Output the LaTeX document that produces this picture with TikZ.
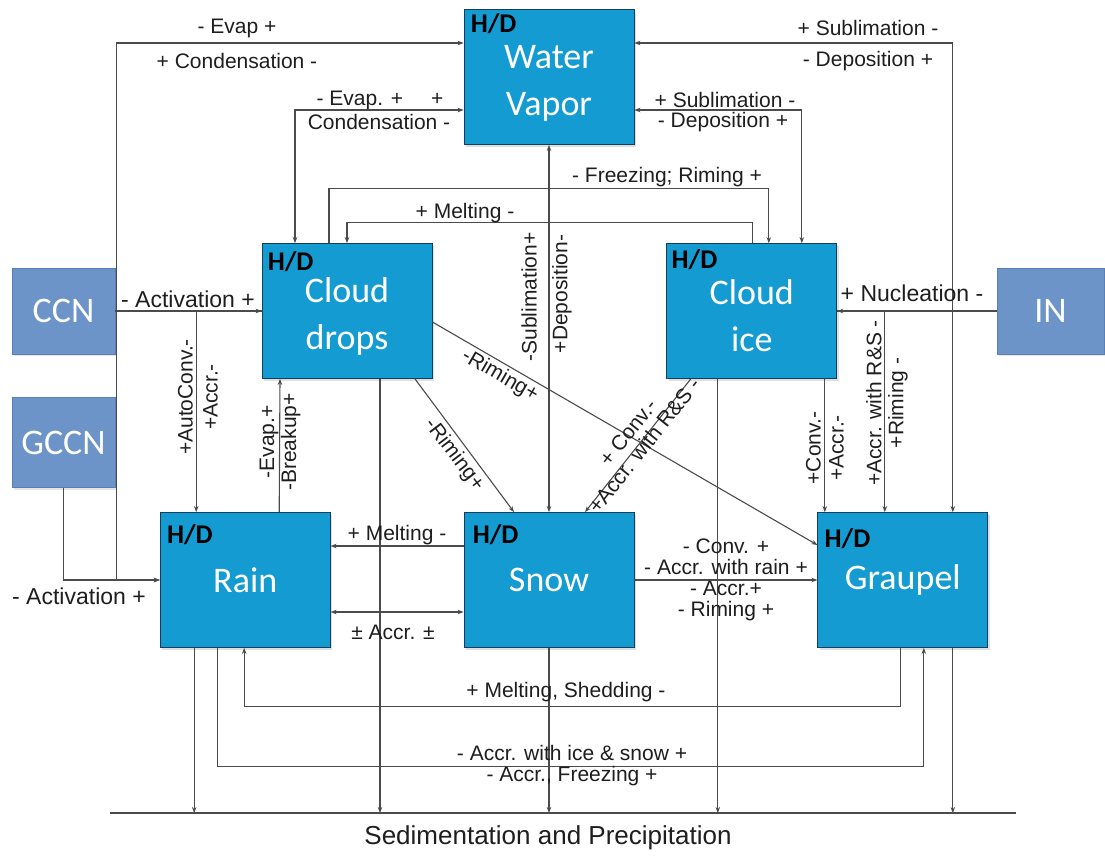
\documentclass[tikz,border=0pt]{standalone}
\usepackage{fontspec}
\setmainfont{Liberation Sans}
\newfontfamily\boxfont{Carlito}
\usetikzlibrary{arrows.meta, positioning, calc, shadows}

\definecolor{phasefill}{RGB}{20,155,210}
\definecolor{phaseedge}{RGB}{18,64,92}
\definecolor{aerofill}{RGB}{108,148,200}
\definecolor{aeroedge}{RGB}{90,128,178}
\definecolor{linegray}{RGB}{75,75,75}
\definecolor{textgray}{RGB}{30,30,30}

\newcommand{\toppad}{\rule{0pt}{35pt}}

\begin{document}
\begin{tikzpicture}[
    x=1pt, y=-1pt,
    every node/.style={font=\fontsize{21}{21}\selectfont, text=textgray},
    phase/.style={
        rectangle,
        minimum width=170pt,
        minimum height=135pt,
        align=center,
        draw=phaseedge,
        line width=0.8pt,
        fill=phasefill,
        text=white,
        font=\boxfont\fontsize{36}{47}\selectfont,
        drop shadow={shadow xshift=2pt, shadow yshift=-2pt, opacity=0.25}
    },
    aerosol/.style={
        rectangle,
        minimum width=103pt,
        minimum height=86pt,
        draw=aeroedge,
        line width=0.6pt,
        fill=aerofill,
        text=white,
        font=\boxfont\fontsize{36}{40}\selectfont,
        drop shadow={shadow xshift=2pt, shadow yshift=-2pt, opacity=0.2}
    },
    hd/.style={
        anchor=north west,
        inner sep=0pt,
        text=black,
        font=\boxfont\bfseries\fontsize{27}{27}\selectfont
    },
    lbl/.style={
        align=center,
        inner sep=1pt
    },
    big/.style={font=\fontsize{23}{23}\selectfont},
    conn/.style={draw=linegray, line width=1.1pt},
    arrow/.style={conn, -{Stealth[length=6pt, width=4.5pt]}},
    biarrow/.style={conn, {Stealth[length=6pt, width=4.5pt]}-{Stealth[length=6pt, width=4.5pt]}}
]

\fill [white] (0,0) rectangle (1105,855);
\useasboundingbox (0,0) rectangle (1105,855);

% Hydrometeor boxes
\node (vapor) [phase] at (549,77) {\toppad Water\\Vapor};
\node (cdrops) [phase] at (347,311) {\toppad Cloud\\drops};
\node (cice) [phase, right=234pt of cdrops] {\toppad Cloud\\ice};
\node (snow) [phase] at (549,580) {Snow};
\node (rain) [phase, left=133pt of snow] {Rain};
\node (graupel) [phase, right=183pt of snow] {Graupel};

% H/D tags
\node (hdvapor) [hd] at ([shift={(7pt,-4pt)}]vapor.north west) {H/D};
\node (hdcdrops) [hd] at ([shift={(6pt,-8pt)}]cdrops.north west) {H/D};
\node (hdcice) [hd] at ([shift={(5pt,-6pt)}]cice.north west) {H/D};
\node (hdrain) [hd] at ([shift={(7pt,-12pt)}]rain.north west) {H/D};
\node (hdsnow) [hd] at ([shift={(9pt,-12pt)}]snow.north west) {H/D};
\node (hdgraupel) [hd] at ([shift={(7pt,-16pt)}]graupel.north west) {H/D};

% Aerosols
\node (ccn) [aerosol] at (63.5,311) {CCN};
\node (gccn) [aerosol, below=43pt of ccn, minimum height=90pt] {GCCN};
\node (inuc) [aerosol, minimum width=107pt] at (1050.5,311) {IN};

% Water vapor exchanges
\draw [biarrow] ([yshift=34pt]vapor.west) -| ([xshift=-43pt]rain.west) -- (rain.west);
\draw [biarrow] ([yshift=-33pt]vapor.west) -| ([xshift=-52pt]cdrops.north);
\draw [biarrow] ([yshift=-33pt]vapor.east) -| ([xshift=50pt]cice.north);
\draw [biarrow] ([yshift=34pt]vapor.east) -| ([xshift=50pt]graupel.north);
\draw [biarrow] (vapor.south) -- (snow.north);

% Cloud drops and cloud ice
\draw [arrow] ([xshift=-18pt]cdrops.north) -- ++(0,-54.5) -| ([xshift=17pt]cice.north);
\draw [arrow] ([xshift=1pt]cice.north) -- ++(0,-20.5) -| (cdrops.north);

% Nucleation
\draw [arrow] (ccn.east) -- (cdrops.west);
\draw [arrow] (gccn.south) |- (rain.west);
\draw [arrow] (inuc.west) -- (cice.east);

% Cloud drops and rain
\draw [arrow] (cdrops.west) -| ([xshift=-49pt]rain.north);
\draw [arrow] ([xshift=34pt]rain.north) -- ([xshift=-67pt]cdrops.south);

% Riming and conversion
\draw [arrow] ([xshift=68pt]cdrops.south) -- ([xshift=-35pt]snow.north);
\draw [arrow] ([yshift=-11pt]cdrops.east) -- ([yshift=35pt]graupel.west);
\draw [arrow] ([xshift=-61pt]cice.south) -- ([xshift=36pt]snow.north);
\draw [arrow] ([xshift=73pt]cice.south) -- ([xshift=-78pt]graupel.north);
\draw [arrow] (cice.east) -| ([xshift=-18pt]graupel.north);

% Precipitating particles
\draw [arrow] ([yshift=34pt]snow.west) -- ([yshift=34pt]rain.east);
\draw [biarrow] ([yshift=-32pt]rain.east) -- ([yshift=-32pt]snow.west);
\draw [arrow] (snow.east) -- (graupel.west);
\draw [arrow] ([xshift=-2pt]graupel.south) -- ++(0,58.5) -| ([xshift=-1pt]rain.south);
\draw [arrow] ([xshift=-28pt]rain.south) -- ++(0,118.5) -| ([xshift=21pt]graupel.south);

% Sedimentation
\coordinate (sedL) at (110,813);
\coordinate (sedR) at (1016,813);
\draw [conn] (sedL) -- (sedR);
\foreach \src/\dx in {rain/-51, cdrops/33, snow/0, cice/-34, graupel/50}
    \draw [arrow] ([xshift=\dx pt]\src.south) -- ([xshift=\dx pt]\src.south |- sedL);
\node (sedlabel) [font=\fontsize{26}{26}\selectfont] at (548,838) {Sedimentation and Precipitation};

% Labels
\node (lEvapOut) [lbl] at (237,28) {- Evap +};
\node (lCondOut) [lbl] at (237,61) {+ Condensation -};
\node (lEvapIn) [lbl] at (380,100) {- Evap. +\hspace{28pt}+};
\node (lCondIn) [lbl] at (379,122) {Condensation -};
\node (lSublOut) [lbl] at (868,28) {+ Sublimation -};
\node (lDepOut) [lbl] at (868,61) {- Deposition +};
\node (lSublIn) [lbl] at (725,100) {+ Sublimation -};
\node (lDepIn) [lbl] at (723,122) {- Deposition +};
\node (lFreez) [lbl] at (667,177) {- Freezing; Riming +};
\node (lMeltTop) [lbl] at (465,213) {+ Melting -};
\node (lSubl) [lbl, rotate=90] at (529,297) {-Sublimation+};
\node (lDep) [lbl, rotate=90] at (562,294) {+Deposition-};
\node (lActCCN) [lbl, big] at (188,299) {- Activation +};
\node (lNucl) [lbl, big] at (912,293) {+ Nucleation -};
\node (lActGCCN) [lbl, big] at (79,596) {- Activation +};
\node (lAuto) [lbl, rotate=90] at (198,397) {+AutoConv.-\\[4pt]+Accr.-};
\node (lEvapRain) [lbl, rotate=90] at (280,442) {-Evap.+\\[1pt]-Breakup+};
\node (lRimSnow) [lbl, rotate=-52.7] at (454,455) {-Riming+};
\node (lRimGrp) [lbl, rotate=-30] at (500,376) {-Riming+};
\node (lConvSnow) [lbl, rotate=51.5] at (636,439) {+ Conv.-\\+Accr. with R\&S -};
\node (lConvGrp) [lbl, rotate=90] at (825,448) {+Conv.-\\[2pt]+Accr.-};
\node (lRimGrpIce) [lbl, rotate=90] at (887,403) {+Accr. with R\&S -\\[1pt]+Riming -};
\node (lMeltRain) [lbl] at (397,535) {+ Melting -};
\node (lAccrRS) [lbl] at (393,632) {± Accr. ±};
\node (lSnowGrp) [lbl] at (726,580) {- Conv. +\\- Accr. with rain +\\- Accr.+\\- Riming +};
\node (lShed) [lbl] at (566,692) {+ Melting, Shedding -};
\node (lAccrIce) [lbl] at (572,766) {- Accr. with ice \& snow +\\- Accr., Freezing +};

\end{tikzpicture}
\end{document}
